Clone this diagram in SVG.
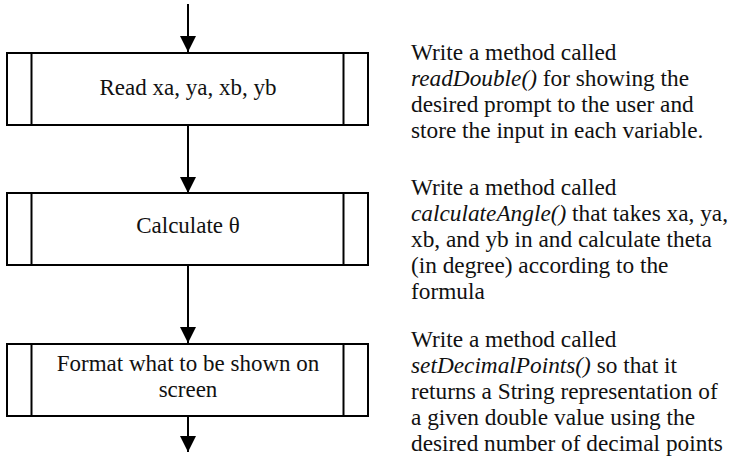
<svg xmlns="http://www.w3.org/2000/svg" width="731" height="462" viewBox="0 0 731 462">
<style>
.box{fill:#fff;stroke:#000;stroke-width:2}
.in{stroke:#000;stroke-width:2}
.lbl{font-family:"Liberation Serif","Times New Roman",serif;font-size:23px;fill:#111;text-anchor:middle}
.note{font-family:"Liberation Serif","Times New Roman",serif;font-size:23.3px;fill:#111}
.conn{stroke:#000;stroke-width:2;fill:none}
</style>
<defs>
<marker id="ah" markerUnits="userSpaceOnUse" markerWidth="16" markerHeight="17" refX="16" refY="8" orient="auto">
<path d="M0,0 L16,8 L0,16 Z" fill="#000"/>
</marker>
</defs>
<rect width="731" height="462" fill="#fff"/>
<g id="connectors">
<line class="conn" x1="188" y1="4" x2="188" y2="52" marker-end="url(#ah)"/>
<line class="conn" x1="188" y1="125" x2="188" y2="193" marker-end="url(#ah)"/>
<line class="conn" x1="188" y1="265" x2="188" y2="343" marker-end="url(#ah)"/>
<line class="conn" x1="188" y1="416" x2="188" y2="452" marker-end="url(#ah)"/>
</g>
<g id="node-read">
<rect class="box" x="7" y="53" width="361" height="72"/>
<line class="in" x1="31.5" y1="53" x2="31.5" y2="125"/>
<line class="in" x1="343.5" y1="53" x2="343.5" y2="125"/>
<text class="lbl" x="188" y="95">Read xa, ya, xb, yb</text>
</g>
<g id="node-calc">
<rect class="box" x="7" y="193" width="361" height="72"/>
<line class="in" x1="31.5" y1="193" x2="31.5" y2="265"/>
<line class="in" x1="343.5" y1="193" x2="343.5" y2="265"/>
<text class="lbl" x="188" y="233">Calculate θ</text>
</g>
<g id="node-format">
<rect class="box" x="7" y="344" width="361" height="72"/>
<line class="in" x1="31.5" y1="344" x2="31.5" y2="416"/>
<line class="in" x1="343.5" y1="344" x2="343.5" y2="416"/>
<text class="lbl" x="188" y="371">Format what to be shown on</text>
<text class="lbl" x="188" y="397">screen</text>
</g>
<g id="note-read">
<text class="note" x="411" y="60">Write a method called</text>
<text class="note" x="411" y="86"><tspan font-style="italic">readDouble()</tspan> for showing the</text>
<text class="note" x="411" y="112">desired prompt to the user and</text>
<text class="note" x="411" y="138">store the input in each variable.</text>
</g>
<g id="note-calc">
<text class="note" x="411" y="195">Write a method called</text>
<text class="note" x="411" y="221"><tspan font-style="italic">calculateAngle()</tspan> that takes xa, ya,</text>
<text class="note" x="411" y="247">xb, and yb in and calculate theta</text>
<text class="note" x="411" y="273">(in degree) according to the</text>
<text class="note" x="411" y="299">formula</text>
</g>
<g id="note-format">
<text class="note" x="411" y="347">Write a method called</text>
<text class="note" x="411" y="373"><tspan font-style="italic">setDecimalPoints()</tspan> so that it</text>
<text class="note" x="411" y="399">returns a String representation of</text>
<text class="note" x="411" y="425">a given double value using the</text>
<text class="note" x="411" y="451">desired number of decimal points</text>
</g>
</svg>
